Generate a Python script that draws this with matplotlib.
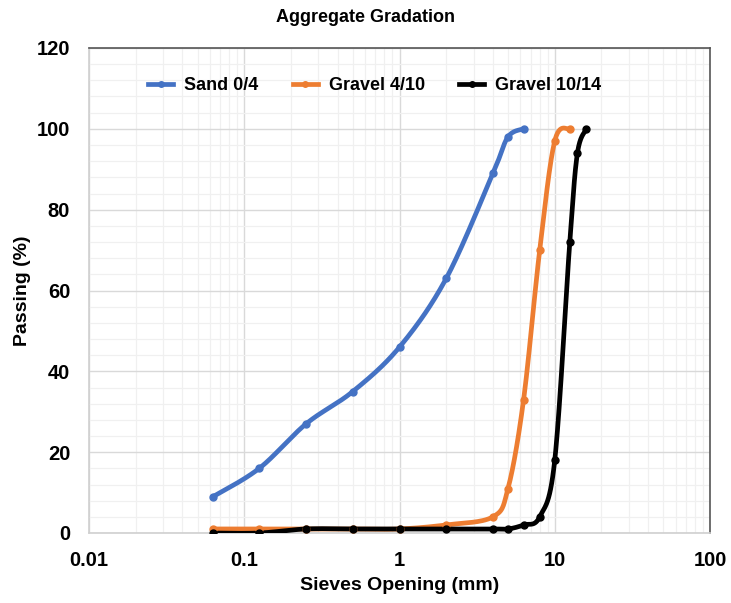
import numpy as np
import matplotlib
matplotlib.use("Agg")
import matplotlib.pyplot as plt
from matplotlib.ticker import FixedLocator, NullFormatter, FuncFormatter

plt.rcParams['font.family'] = ['Liberation Sans', 'DejaVu Sans']

sand_x = [0.063, 0.125, 0.25, 0.5, 1, 2, 4, 5, 6.3]
sand_y = [9, 16, 27, 35, 46, 63, 89, 98, 100]

g410_x = [0.063, 0.125, 0.25, 0.5, 1, 2, 4, 5, 6.3, 8, 10, 12.5]
g410_y = [1, 1, 1, 1, 1, 2, 4, 11, 33, 70, 97, 100]

g1014_x = [0.063, 0.125, 0.25, 0.5, 1, 2, 4, 5, 6.3, 8, 10, 12.5, 14, 16]
g1014_y = [0, 0, 1, 1, 1, 1, 1, 1, 2, 4, 18, 72, 94, 100]

series = [("Sand 0/4", sand_x, sand_y, "#4472C4"),
          ("Gravel 4/10", g410_x, g410_y, "#ED7D31"),
          ("Gravel 10/14", g1014_x, g1014_y, "#000000")]


def smooth(xs, ys, n=30):
    # Catmull-Rom style smoothing in log-x space (drawing only)
    lx = np.log10(np.asarray(xs, float))
    y = np.asarray(ys, float)
    P = np.column_stack([lx, y])
    P = np.vstack([P[0], P, P[-1]])
    out = []
    for i in range(1, len(P) - 2):
        p0, p1, p2, p3 = P[i - 1], P[i], P[i + 1], P[i + 2]
        t = np.linspace(0, 1, n)[:, None]
        m1 = (p2 - p0) / 2
        m2 = (p3 - p1) / 2
        h00 = 2 * t**3 - 3 * t**2 + 1
        h10 = t**3 - 2 * t**2 + t
        h01 = -2 * t**3 + 3 * t**2
        h11 = t**3 - t**2
        out.append(h00 * p1 + h10 * m1 + h01 * p2 + h11 * m2)
    S = np.vstack(out)
    return 10 ** S[:, 0], S[:, 1]


fig = plt.figure(figsize=(7.31, 6.03), dpi=100)
ax = fig.add_axes([89 / 731, 1 - 533 / 603, (710 - 89) / 731, (533 - 48) / 603])

for name, xs, ys, c in series:
    sx, sy = smooth(xs, ys)
    ax.plot(sx, sy, color=c, lw=3.4, solid_capstyle='round', zorder=3)
    ax.plot(xs, ys, 'o', color=c, ms=5, zorder=4)
    ax.plot([], [], color=c, lw=3.4, marker='o', ms=4, label=name)

ax.set_xscale('log')
ax.set_xlim(0.01, 100)
ax.set_ylim(0, 120)
ax.xaxis.set_major_locator(FixedLocator([0.01, 0.1, 1, 10, 100]))
ax.xaxis.set_major_formatter(FuncFormatter(lambda v, p: f"{v:g}"))
ax.xaxis.set_minor_locator(FixedLocator([m * 10.0**e for e in range(-2, 2) for m in range(2, 10)]))
ax.xaxis.set_minor_formatter(NullFormatter())
ax.yaxis.set_major_locator(FixedLocator(np.arange(0, 121, 20)))
ax.yaxis.set_minor_locator(FixedLocator(np.arange(0, 121, 4)))

ax.grid(True, which='major', color='#D9D9D9', lw=1.0, zorder=0)
ax.grid(True, which='minor', color='#F0F0F0', lw=0.9, zorder=0)
ax.set_axisbelow(True)

ax.tick_params(which='both', length=0)
ax.tick_params(axis='x', pad=13)
ax.tick_params(axis='y', pad=13.5)
for lbl in ax.get_xticklabels() + ax.get_yticklabels():
    lbl.set_fontweight('bold')
    lbl.set_fontsize(14.5)

ax.spines['left'].set_color('#D0D0D0')
ax.spines['bottom'].set_color('#D0D0D0')
ax.spines['top'].set_color('#555555')
ax.spines['right'].set_color('#555555')
for s in ax.spines.values():
    s.set_linewidth(1.2)

ax.set_xlabel('Sieves Opening (mm)', fontsize=14, fontweight='bold', labelpad=5)
ax.set_ylabel('Passing (%)', fontsize=14, fontweight='bold', labelpad=4)
fig.text(0.5, 1 - 18 / 603, 'Aggregate Gradation', ha='center', va='center',
         fontsize=13, fontweight='bold')

leg = ax.legend(loc='center left', bbox_to_anchor=((148 - 89) / 621, 1 - (86 - 48) / 485), ncol=3,
                frameon=False, prop={'weight': 'bold', 'size': 13},
                handlelength=1.4, columnspacing=1.9, handletextpad=0.6,
                borderpad=0, borderaxespad=0)

fig.savefig('out.png', dpi=100, facecolor='white')
